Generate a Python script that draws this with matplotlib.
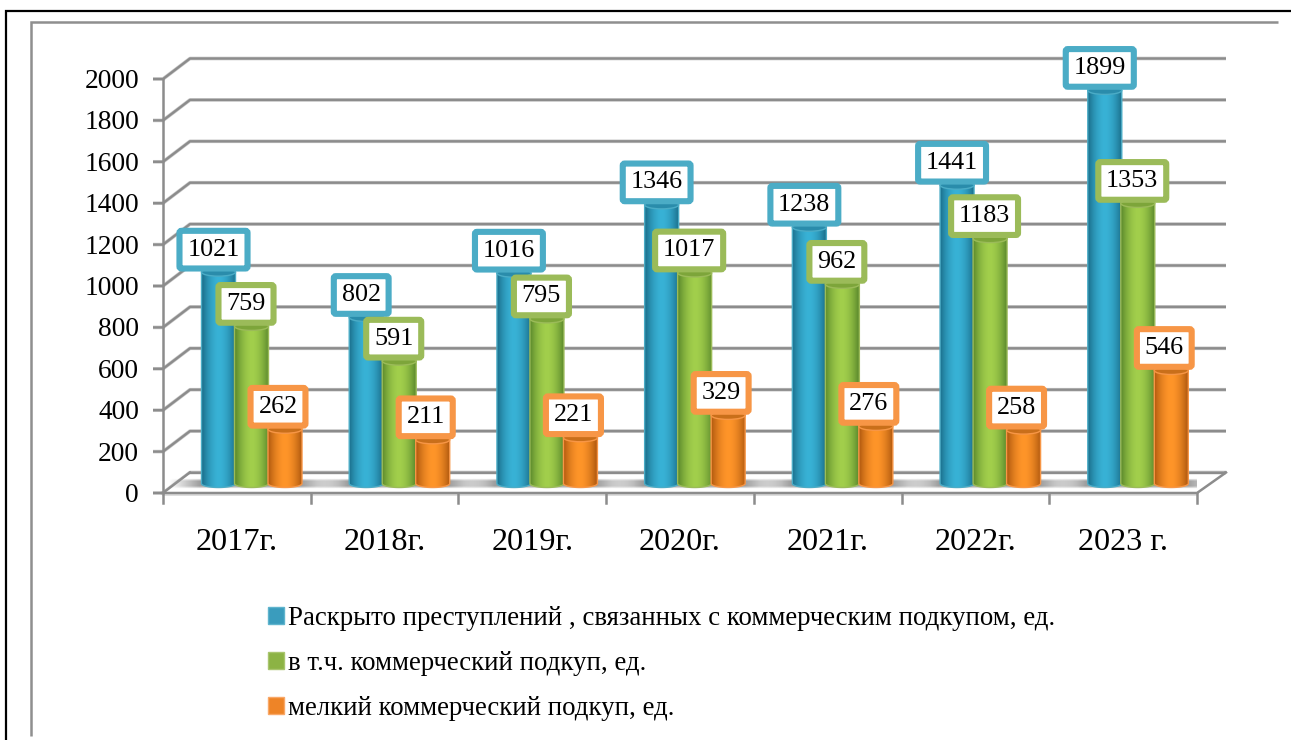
import numpy as np
import matplotlib
matplotlib.use("Agg")
import matplotlib.pyplot as plt
from matplotlib.patches import Ellipse, Patch, PathPatch
from matplotlib.path import Path
from matplotlib.lines import Line2D

plt.rcParams['font.family'] = ['Liberation Serif', 'DejaVu Serif']

years = ["2017г.", "2018г.", "2019г.", "2020г.", "2021г.", "2022г.", "2023 г."]
solved = [1021, 802, 1016, 1346, 1238, 1441, 1899]
bribery = [759, 591, 795, 1017, 962, 1183, 1353]
petty = [262, 211, 221, 329, 276, 258, 546]
y_ticks = [0, 200, 400, 600, 800, 1000, 1200, 1400, 1600, 1800, 2000]
legend_names = ["Раскрыто преступлений , связанных с коммерческим подкупом, ед.",
                "в т.ч. коммерческий подкуп, ед.",
                "мелкий коммерческий подкуп, ед."]

W, H = 1291, 740
GRID = "#8c8c8c"

fig = plt.figure(figsize=(W / 100, H / 100), dpi=100)

# outer frames, in pixels
def frame(xs, ys, color, lw):
    fig.add_artist(Line2D([x / W for x in xs], [1 - y / H for y in ys], color=color, lw=lw,
                          solid_capstyle='butt', solid_joinstyle='miter'))

frame([6, 6, W], [H, 11, 11], "black", 1.6)
frame([31, 31, 1278], [736, 22, 22], "#8f8f8f", 1.8)

ax = fig.add_axes([163 / W, 1 - 493 / H, (1197 - 163) / W, (493 - 79) / H])
ax.set_xlim(0, 7)
ax.set_ylim(0, 2000)
ax.axis('off')

# sizes in data units
px_x = 7 / (1197 - 163)
px_y = 2000 / (493 - 79)
depth_x = 27 * px_x
depth_y = 20.5 * px_y

# walls and floor
for v in y_ticks:
    line_x = [-10 * px_x, 0, depth_x, 7 + depth_x + 2 * px_x]
    line_y = [v, v, v + depth_y, v + depth_y]
    ax.plot(line_x, line_y, color="#c9c9c9", lw=2.6, clip_on=False, zorder=1,
            solid_joinstyle='round', solid_capstyle='butt')
    ax.plot(line_x, line_y, color=GRID, lw=1.7, clip_on=False, zorder=1.1,
            solid_joinstyle='round', solid_capstyle='butt')
ax.plot([0, 0], [0, 2000], color=GRID, lw=1.8, clip_on=False, zorder=1.2)
ax.plot([-1 * px_x, 7, 7 + depth_x + 2 * px_x], [0, 0, depth_y], color=GRID, lw=1.8, clip_on=False, zorder=3)
ax.plot([0, 7], [-1.5 * px_y, -1.5 * px_y], color="#d8d8d8", lw=1.2, clip_on=False, zorder=2.9)
for i in range(8):
    ax.plot([i, i], [0, -10 * px_y], color=GRID, lw=1.8, clip_on=False, zorder=3)

# floor polygon hides nothing but the grid line behind the bars
floor = np.array([[0, 0], [7, 0], [7 + depth_x, depth_y], [depth_x, depth_y]])
ax.fill(floor[:, 0], floor[:, 1], color="white", zorder=1.5, clip_on=False)
ax.plot([depth_x, 7 + depth_x], [depth_y, depth_y], color=GRID, lw=1.7, zorder=1.6, clip_on=False)
ax.plot([0, depth_x], [0, depth_y], color=GRID, lw=1.7, zorder=1.6, clip_on=False)

bar_w = 34 * px_x
offsets = [55.5 * px_x, 88.5 * px_x, 122 * px_x]
base = 9.5 * px_y
cap = 4 * px_y
styles = [
    dict(edge="#1b6f8c", mid="#38b2d6", top="#2a8cab", rim="#4bacc6", label="#4bacc6", dx=-5),
    dict(edge="#5c8a2c", mid="#a2cf4c", top="#7da53a", rim="#9bbb59", label="#9bbb59", dx=-5.5),
    dict(edge="#b0590f", mid="#ff9529", top="#c96f1a", rim="#f79646", label="#f79646", dx=-7),
]


def shadow(i):
    # soft grey patch on the floor around one group
    nx = 200
    t = np.linspace(0, 1, nx)
    a = np.clip(np.minimum(t / 0.18, (1 - t) / 0.22), 0, 1)
    rgba = np.zeros((12, nx, 4))
    rgba[..., :3] = 0.62
    fade = np.clip(np.minimum(np.linspace(0, 1, 12) / 0.25, np.linspace(1, 0, 12) / 0.25), 0, 1)
    rgba[..., 3] = np.outer(fade, a)
    ax.imshow(rgba, extent=(i + 6 * px_x, i + 176 * px_x, 4 * px_y, 14 * px_y), aspect='auto',
              zorder=2, interpolation='bilinear')


def cylinder(xc, value, st, z):
    xl, xr = xc - bar_w / 2, xc + bar_w / 2
    y0 = base
    y1 = base + value
    t = np.linspace(np.pi, 2 * np.pi, 40)
    lower = np.column_stack([xc + bar_w / 2 * np.cos(t), y0 + cap * np.sin(t)])
    upper = np.column_stack([xc + bar_w / 2 * np.cos(t[::-1]), y1 - cap * np.sin(t[::-1])])
    pts = np.vstack([lower, upper, lower[:1]])
    body = PathPatch(Path(pts), fc='none', ec=st["rim"], lw=1.0, zorder=z + 0.2)
    ax.add_patch(body)
    e = np.array(matplotlib.colors.to_rgb(st["edge"]))
    m = np.array(matplotlib.colors.to_rgb(st["mid"]))
    s = np.abs(np.linspace(-1, 1, 64)) ** 1.8
    grad = (e[None, :] * s[:, None] + m[None, :] * (1 - s[:, None]))[None, :, :]
    im = ax.imshow(grad, extent=(xl, xr, y0 - cap, y1 + cap), aspect='auto', zorder=z,
                   interpolation='bilinear')
    im.set_clip_path(PathPatch(Path(pts), transform=ax.transData))
    ax.add_patch(Ellipse((xc, y1), bar_w, 2 * cap, fc=st["top"], ec=st["rim"], lw=1.0, zorder=z + 0.3))


for i in range(len(years)):
    shadow(i)

for s, (series, st) in enumerate(zip([solved, bribery, petty], styles)):
    for i, v in enumerate(series):
        cylinder(i + offsets[s], v, st, 4 + s)

for s, (series, st) in enumerate(zip([solved, bribery, petty], styles)):
    for i, v in enumerate(series):
        ax.text(i + offsets[s] + st["dx"] * px_x, base + v + 22.5 * px_y, str(v), ha='center', va='center',
                fontsize=18.8, color="black", zorder=10 + s,
                bbox=dict(boxstyle="round,pad=0.3,rounding_size=0.08", fc="white", ec=st["label"], lw=4.4))

for v in y_ticks:
    ax.text(-24 * px_x, v - 2.5 * px_y, str(v), ha='right', va='center', fontsize=19.8, color="black", clip_on=False)
for i, name in enumerate(years):
    ax.text(i + 0.5, -50 * px_y, name, ha='center', va='center', fontsize=23.2, color="black", clip_on=False)

ax.set_xlim(0, 7)
ax.set_ylim(0, 2000)

handles = [Patch(fc=c, ec=r, lw=1) for c, r in zip(["#3a9cbd", "#8cb344", "#ee8427"],
                                                   ["#5fb4cd", "#a9c56e", "#f9a868"])]
fig.legend(handles, legend_names, loc='upper left', bbox_to_anchor=(268 / W, 1 - 606 / H), frameon=False,
           fontsize=19.35, handlelength=0.6, handleheight=0.6, handletextpad=0.15, labelspacing=0.74,
           borderpad=0, borderaxespad=0)

fig.savefig("out.png", dpi=100)
